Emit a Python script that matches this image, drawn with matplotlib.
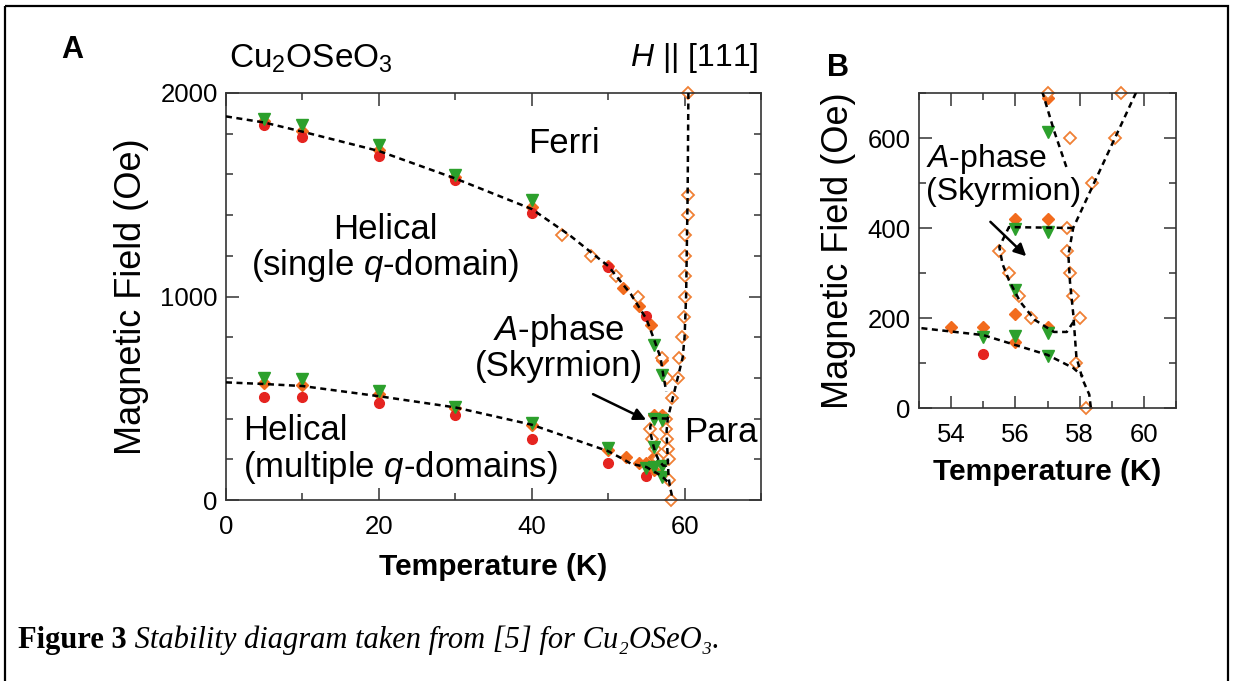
import matplotlib
matplotlib.use("Agg")
import matplotlib.pyplot as plt
from matplotlib.patches import Rectangle

plt.rcParams['font.family'] = ['Liberation Sans', 'DejaVu Sans']
plt.rcParams['mathtext.fontset'] = 'custom'
plt.rcParams['mathtext.rm'] = 'Liberation Sans'
plt.rcParams['mathtext.it'] = 'Liberation Sans:italic'
plt.rcParams['mathtext.bf'] = 'Liberation Sans:bold'

# данные (T в K, H в Oe)
red_T = [5, 10, 20, 30, 40, 50, 55, 5, 10, 20, 30, 40, 50, 55]
red_H = [1843, 1784, 1690, 1572, 1410, 1145, 904, 506, 506, 477, 418, 300, 182, 120]

green_T = [5, 10, 20, 30, 40, 56, 57, 5, 10, 20, 30, 40, 50, 56, 57, 56, 55, 56, 57, 57]
green_H = [1872, 1843, 1744, 1597, 1474, 762, 613, 600, 595, 536, 457, 378, 255,
           398, 392, 262, 158, 160, 166, 115]

orange_T = [5, 10, 20, 30, 40, 50, 52, 54, 55.6, 57.0,
            5, 10, 20, 30, 40, 50, 52.3, 56, 57, 56, 57, 54, 55, 56]
orange_H = [1860, 1815, 1720, 1585, 1440, 1150, 1042, 955, 860, 690,
            575, 565, 520, 450, 370, 245, 211, 420, 420, 210, 180, 180, 180, 147]

open_T = [44, 47.8, 51, 53.9, 60.5, 60.5, 60.4, 60.0, 60.1, 60.0, 60.1, 59.9, 59.7,
          57.0, 59.3, 57.7, 59.1, 58.4, 57.6, 57.6, 55.5, 55.8, 57.7, 56.1, 57.8,
          56.5, 58.0, 57.9, 58.2]
open_H = [1300, 1200, 1100, 1000, 2000, 1500, 1400, 1300, 1200, 1100, 1000, 900, 800,
          700, 700, 600, 600, 500, 400, 350, 350, 300, 300, 250, 250,
          200, 200, 100, 0]

# границы фаз (пунктир)
upper_T = [0, 5, 10, 20, 30, 40, 45, 50, 53, 55, 56, 56.85, 57.2, 57.6]
upper_H = [1885, 1855, 1810, 1715, 1580, 1430, 1300, 1150, 1010, 890, 790, 700, 617, 533]

para_T = [60.5, 60.4, 60.2, 60.0, 59.75, 59.1, 58.45, 57.8, 57.65, 57.7, 57.8, 57.9, 58.1, 58.3, 58.35]
para_H = [2000, 1500, 1000, 800, 700, 600, 500, 400, 340, 280, 210, 113, 62, 30, 0]

lower_T = [0, 5, 10, 20, 30, 40, 50, 52, 53, 55, 57, 57.8, 58.1]
lower_H = [578, 570, 560, 510, 455, 370, 240, 200, 178, 162, 118, 89, 70]

pocket_T = [57.8, 55.8, 55.5, 55.6, 55.8, 56.15, 56.6, 57.2, 57.6, 57.85]
pocket_H = [400, 402, 358, 320, 284, 236, 196, 169, 169, 196]

W, H = 1233, 681
fig = plt.figure(figsize=(W / 100, H / 100), dpi=100)

# рамка и подпись
bg = fig.add_axes([0, 0, 1, 1], zorder=-5)
bg.set_xlim(0, W)
bg.set_ylim(H, 0)
bg.axis('off')
bg.add_patch(Rectangle((5, 6), 1223, 700, fill=False, lw=1.6, ec='black'))
cap = bg.text(18, 648, 'Figure 3', family=['Liberation Serif', 'DejaVu Serif'],
              weight='bold', fontsize=22, va='baseline', ha='left')
bg.annotate(' Stability diagram taken from [5] for Cu\u2082OSeO\u2083.', xy=(1, 0),
            xycoords=cap, va='bottom', ha='left', fontsize=22,
            family=['Liberation Serif', 'DejaVu Serif'], style='italic')


def px_axes(x0, y0, x1, y1):
    return fig.add_axes([x0 / W, 1 - y1 / H, (x1 - x0) / W, (y1 - y0) / H])


def inside(tt, hh, lim):
    keep = [(t, h) for t, h in zip(tt, hh)
            if lim[0] <= t <= lim[1] and lim[2] <= h <= lim[3]]
    return [k[0] for k in keep], [k[1] for k in keep]


def draw(ax, lim):
    t, h = inside(orange_T, orange_H, lim)
    ax.plot(t, h, 'D', color='#f26b1d', ms=6.5, mec='#f26b1d', zorder=2, clip_on=False)
    t, h = inside(open_T, open_H, lim)
    ax.plot(t, h, 'D', mfc='white', mec='#f08035', mew=1.3, ms=6.5, zorder=2, clip_on=False)
    t, h = inside(red_T, red_H, lim)
    ax.plot(t, h, 'o', color='#e52420', ms=7, zorder=2, clip_on=False)
    t, h = inside(green_T, green_H, lim)
    ax.plot(t, h, 'v', color='#2ca02c', ms=8, zorder=2, clip_on=False)
    for tt, hh in [(upper_T, upper_H), (para_T, para_H), (lower_T, lower_H), (pocket_T, pocket_H)]:
        ax.plot(tt, hh, color='black', lw=1.8, dashes=(2.4, 1.8), zorder=3)
    ax.set_xlim(lim[0], lim[1])
    ax.set_ylim(lim[2], lim[3])


def style(ax, xpad, ypad):
    for s in ax.spines.values():
        s.set_linewidth(1.2)
        s.set_color('#333333')
    ax.tick_params(which='both', direction='in', top=True, right=True,
                   labelsize=18.5, color='#333333', width=1.1)
    ax.tick_params(which='major', length=9)
    ax.tick_params(which='minor', length=5)
    ax.tick_params(axis='x', pad=xpad)
    ax.tick_params(axis='y', pad=ypad)


# панель A
axA = px_axes(226, 93, 761, 500)
draw(axA, (0, 70, 0, 2000))
axA.set_xticks([0, 20, 40, 60])
axA.set_xticks([10, 30, 50, 70], minor=True)
axA.set_yticks([0, 1000, 2000])
axA.set_yticks(range(200, 2000, 200), minor=True)
style(axA, 11, 6)
axA.set_xlabel('Temperature (K)', fontsize=21.5, weight='bold', labelpad=10)
axA.set_ylabel('Magnetic Field (Oe)', fontsize=26, labelpad=8)

axA.text(44.2, 1754, 'Ferri', fontsize=25, ha='center', va='center')
axA.text(20.8, 1235, 'Helical\n(single $\\mathit{q}$-domain)', fontsize=25,
         ha='center', va='center', linespacing=1.05)
axA.text(2.2, 245, 'Helical\n(multiple $\\mathit{q}$-domains)', fontsize=25,
         ha='left', va='center', linespacing=1.05)
axA.text(43.5, 750, '$\\mathit{A}$-phase\n(Skyrmion)', fontsize=25,
         ha='center', va='center', linespacing=1.05)
axA.text(59.9, 334, 'Para', fontsize=25, ha='left', va='center')
axA.annotate('', xy=(55.3, 388), xytext=(47.7, 526),
             arrowprops=dict(arrowstyle='-|>', color='black', lw=1.8, mutation_scale=18))

axA.text(0.005, 1.045, 'Cu$_\\mathrm{2}$OSeO$_\\mathrm{3}$', transform=axA.transAxes,
         fontsize=24, ha='left', va='bottom')
axA.text(0.995, 1.045, '$\\mathit{H}$ || [111]', transform=axA.transAxes,
         fontsize=23, ha='right', va='bottom')
fig.text(72 / W, 1 - 50 / H, 'A', fontsize=22, weight='bold', ha='center', va='center')

# панель B
axB = px_axes(919, 93, 1176, 408)
draw(axB, (53, 61, 0, 700))
axB.set_xticks([54, 56, 58, 60])
axB.set_xticks([53, 55, 57, 59, 61], minor=True)
axB.set_yticks([0, 200, 400, 600])
axB.set_yticks([100, 300, 500, 700], minor=True)
style(axB, 11, 6)
axB.set_xlabel('Temperature (K)', fontsize=21.5, weight='bold', labelpad=8)
axB.set_ylabel('Magnetic Field (Oe)', fontsize=26, labelpad=8)
axB.text(53.22, 518, '$\\mathit{A}$-phase\n(Skyrmion)', fontsize=23,
         ha='left', va='center', linespacing=1.05)
axB.annotate('', xy=(56.4, 333), xytext=(55.16, 418),
             arrowprops=dict(arrowstyle='-|>', color='black', lw=1.8, mutation_scale=18))
fig.text(838 / W, 1 - 68 / H, 'B', fontsize=22, weight='bold', ha='center', va='center')

fig.savefig('out.png', dpi=100)
